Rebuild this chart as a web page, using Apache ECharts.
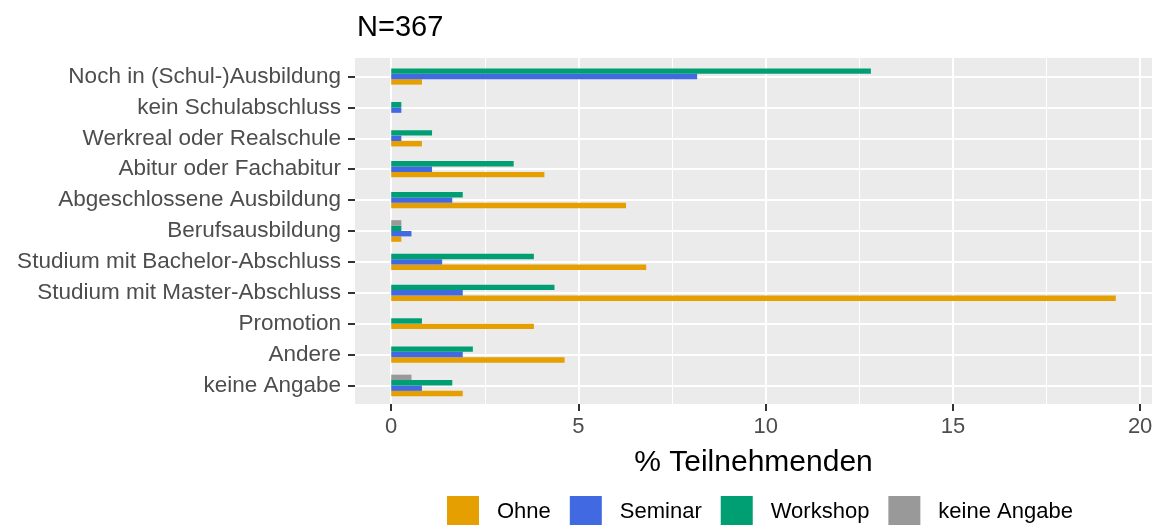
<!DOCTYPE html>
<html>
<head>
<meta charset="utf-8">
<script src="https://cdn.jsdelivr.net/npm/echarts@6/dist/echarts.min.js"></script>
<style>
  html, body { margin: 0; background: #fff; }
  #chartBar { width: 1160px; height: 525px; }
</style>
</head>
<body>
<div id="chartBar"></div>
<script>
  // Abschluss, von oben nach unten
  const abschluss = [
    'Noch in (Schul-)Ausbildung',
    'kein Schulabschluss',
    'Werkreal oder Realschule',
    'Abitur oder Fachabitur',
    'Abgeschlossene Ausbildung',
    'Berufsausbildung',
    'Studium mit Bachelor-Abschluss',
    'Studium mit Master-Abschluss',
    'Promotion',
    'Andere',
    'keine Angabe'
  ]
  const gruppen = ['Ohne', 'Seminar', 'Workshop', 'keine Angabe']
  const farben = ['#E69F00', '#4169E1', '#009E73', '#999999']

  // % Teilnehmenden (N=367), null = kein Balken
  const ohne        = [0.82, null, 0.82, 4.09, 6.27, 0.27, 6.81, 19.35, 3.81, 4.63, 1.91]
  const seminar     = [8.17, 0.27, 0.27, 1.09, 1.63, 0.54, 1.36, 1.91, null, 1.91, 0.82]
  const workshop    = [12.81, 0.27, 1.09, 3.27, 1.91, 0.27, 3.81, 4.36, 0.82, 2.18, 1.63]
  const keineAngabe = [null, null, null, null, null, 0.27, null, null, null, null, 0.54]

  const xTicks = [0, 5, 10, 15, 20]
  const xMinor = [2.5, 7.5, 12.5, 17.5]
  const yTicks = abschluss.map((a, i) => i)

  const werte = [ohne, seminar, workshop, keineAngabe]
  const barW = 0.7 / 4

  // dodge: vorhandene Balken je Kategorie zentrieren, Ohne unten
  function dodge(g) {
    let out = []
    for (let i = 0; i < abschluss.length; i++) {
      if (werte[g][i] == null) continue
      let da = []
      for (let s = 0; s < werte.length; s++) {
        if (werte[s][i] != null) da.push(s)
      }
      let k = da.indexOf(g)
      let off = ((da.length - 1) / 2 - k) * barW
      out.push([werte[g][i], i + off])
    }
    return out
  }

  function renderBar(params, api) {
    let y = api.value(1)
    let a = api.coord([0, y])
    let b = api.coord([api.value(0), y])
    let h = api.size([0, barW])[1]
    return {
      type: 'rect',
      shape: { x: a[0], y: b[1] - h / 2, width: b[0] - a[0], height: h },
      style: { fill: api.visual('color') }
    }
  }

  const font = 'Liberation Sans, Arial, sans-serif'

  let series = gruppen.map((name, g) => ({
    name: name,
    type: 'custom',
    renderItem: renderBar,
    itemStyle: { color: farben[g] },
    encode: { x: 0, y: 1 },
    data: dodge(g),
    z: 3
  }))
  // feine Gitterlinien
  series.push({
    type: 'custom',
    renderItem: () => null,
    data: [],
    z: 1,
    markLine: {
      silent: true,
      z: 1,
      symbol: 'none',
      label: { show: false },
      lineStyle: { color: '#ffffff', width: 1, type: 'solid' },
      data: xMinor.map(v => ({ xAxis: v }))
    }
  })

  let myChart = echarts.init(document.getElementById('chartBar'))
  myChart.setOption({
    animation: false,
    textStyle: { fontFamily: font },
    title: {
      text: 'N=367',
      left: 352,
      top: 8,
      textStyle: { fontSize: 29, fontWeight: 'normal', color: '#000', fontFamily: font }
    },
    grid: {
      left: 355,
      right: 8,
      top: 58,
      bottom: 121,
      show: true,
      backgroundColor: '#EBEBEB',
      borderWidth: 0
    },
    legend: {
      data: gruppen,
      left: 447,
      top: 496,
      padding: 0,
      icon: 'rect',
      itemWidth: 32,
      itemHeight: 32,
      itemGap: 19,
      textStyle: { fontSize: 22, color: '#000', fontFamily: font, padding: [2, 0, 0, 13] }
    },
    xAxis: {
      type: 'value',
      min: -0.9675,
      max: 20.3175,
      name: '% Teilnehmenden',
      nameLocation: 'middle',
      nameGap: 44,
      nameTextStyle: { fontSize: 30, color: '#000', fontFamily: font },
      axisLine: { show: false, onZero: false },
      axisTick: { show: true, length: 7, customValues: xTicks, lineStyle: { color: '#333333', width: 2 } },
      axisLabel: { customValues: xTicks, fontSize: 22, color: '#4D4D4D', margin: 12, fontFamily: font },
      splitLine: { show: true, lineStyle: { color: '#ffffff', width: 2 } }
    },
    yAxis: {
      type: 'value',
      inverse: true,
      min: -0.6,
      max: 10.6,
      axisLine: { show: false, onZero: false },
      axisTick: { show: true, length: 7, customValues: yTicks, lineStyle: { color: '#333333', width: 2 } },
      axisLabel: {
        customValues: yTicks,
        fontSize: 22.5,
        color: '#4D4D4D',
        margin: 14,
        fontFamily: font,
        formatter: v => abschluss[Math.round(v)]
      },
      splitLine: { show: true, lineStyle: { color: '#ffffff', width: 2 } }
    },
    series: series
  })
</script>
</body>
</html>
